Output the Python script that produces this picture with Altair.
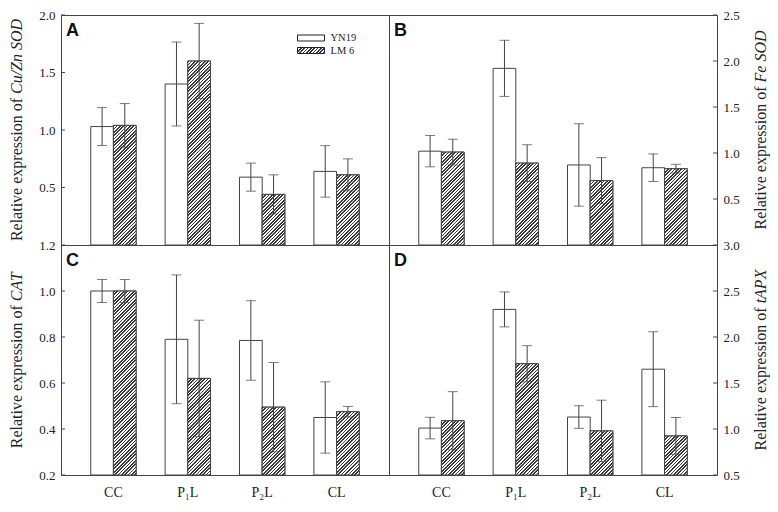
import altair as alt
import pandas as pd

# ---------------- data ----------------
groups = ["CC", "P₁L", "P₂L", "CL"]
series = ["YN19", "LM 6"]

cuzn_yn19 = [1.03, 1.40, 0.59, 0.64]
cuzn_yn19_err = [0.165, 0.365, 0.122, 0.224]
cuzn_lm6 = [1.04, 1.60, 0.44, 0.61]
cuzn_lm6_err = [0.19, 0.327, 0.17, 0.139]

fe_yn19 = [1.02, 1.92, 0.87, 0.84]
fe_yn19_err = [0.17, 0.305, 0.448, 0.15]
fe_lm6 = [1.01, 0.89, 0.70, 0.83]
fe_lm6_err = [0.14, 0.20, 0.25, 0.047]

cat_yn19 = [1.00, 0.79, 0.785, 0.45]
cat_yn19_err = [0.05, 0.28, 0.173, 0.155]
cat_lm6 = [1.00, 0.62, 0.495, 0.475]
cat_lm6_err = [0.05, 0.253, 0.194, 0.023]

apx_yn19 = [1.01, 2.30, 1.13, 1.65]
apx_yn19_err = [0.117, 0.19, 0.123, 0.407]
apx_lm6 = [1.09, 1.71, 0.98, 0.925]
apx_lm6_err = [0.316, 0.196, 0.333, 0.20]

ticks_a = [0.5, 1.0, 1.5, 2.0]
ticks_b = [0.5, 1.0, 1.5, 2.0, 2.5]
ticks_c = [0.2, 0.4, 0.6, 0.8, 1.0, 1.2]
ticks_d = [0.5, 1.0, 1.5, 2.0, 2.5, 3.0]

# ---------------- style ----------------
W, H = 328, 230
FONT = "Liberation Serif"
LINE = "#444444"
HATCH = "#3a3a3a"
P = 3.35         # hatch period (px, along x)
NSTR = 95        # stripes in gradient
DARK = 0.5
PAD_IN, PAD_OUT = 0.39, 0.40
STEP = W / (len(groups) - PAD_IN + 2 * PAD_OUT)
BAR_W = STEP * (1 - PAD_IN) / 2

stops = []
for i in range(NSTR):
    a, b, c = i / NSTR, (i + DARK) / NSTR, (i + 1) / NSTR
    stops += [(a, HATCH), (b, HATCH), (b, "#ffffff"), (c, "#ffffff")]
STOPS_JS = "[" + ",".join("{offset:%.5f,color:'%s'}" % (o, col) for o, col in stops) + "]"


def grad(w, h):
    den = "(%s*%s+%s*%s)" % (w, w, h, h)
    x2 = "%s*%s/%s" % (P * NSTR, w, den)
    y2 = "%s*%s/%s" % (P * NSTR, h, den)
    return "{gradient:'linear',x1:0,y1:0,x2:%s,y2:%s,stops:%s}" % (x2, y2, STOPS_JS)


LEGEND_GRAD = grad("27", "6")

# Times / Liberation Serif advance widths (per 1000 em)
REG = {"R": 667, "e": 444, "l": 278, "a": 444, "t": 278, "i": 278, "v": 500, " ": 250,
       "x": 500, "p": 500, "r": 333, "s": 389, "o": 500, "n": 500, "f": 333}
ITA = {"C": 667, "u": 500, "/": 278, "Z": 556, "n": 500, " ": 250, "S": 500, "O": 722,
       "D": 722, "F": 611, "e": 444, "A": 611, "T": 556, "t": 278, "P": 611, "X": 611}
TFS = 16


def twidth(s, table):
    return sum(table.get(ch, 500) for ch in s) * TFS / 1000.0


def make_df(yn, yn_e, lm, lm_e):
    rows = []
    for s, vals, errs in (("YN19", yn, yn_e), ("LM 6", lm, lm_e)):
        for g, v, e in zip(groups, vals, errs):
            rows.append({"group": g, "series": s, "value": v, "lo": v - e, "hi": v + e})
    return pd.DataFrame(rows)


def panel(df, lo, hi, ticks, orient, letter, t_norm, t_ital, xlabels, legend):
    xaxis = (alt.Axis(title=None, ticks=False, domain=False, labelFont=FONT, labelFontSize=14,
                      labelPadding=10, labelAngle=0, labelColor="#222222")
             if xlabels else None)
    xs = alt.X("group:N", sort=groups, axis=xaxis,
               scale=alt.Scale(domain=groups, paddingInner=PAD_IN, paddingOuter=PAD_OUT))
    xo = alt.XOffset("series:N", sort=series,
                     scale=alt.Scale(domain=series, paddingInner=0, paddingOuter=0))
    ysc = alt.Scale(domain=[lo, hi], nice=False, zero=False)
    yax = alt.Axis(values=ticks, orient=orient, title=None, ticks=False, domain=False, grid=False,
                   format=".1f", labelFont=FONT, labelFontSize=13, labelPadding=6,
                   labelColor="#222222", labelFlush=False)

    base = alt.Chart(df)
    if legend:
        fill = alt.Fill("series:N", sort=series,
                        scale=alt.Scale(domain=series, range=["#ffffff", alt.ExprRef(expr=LEGEND_GRAD)]),
                        legend=alt.Legend(title=None, orient="none", legendX=244, legendY=17,
                                          symbolType="M-2.4545,-0.5455L2.4545,-0.5455L2.4545,0.5455L-2.4545,0.5455Z",
                                          symbolSize=121, symbolStrokeColor="#222222",
                                          symbolStrokeWidth=1, labelFont=FONT, labelFontSize=10.5,
                                          labelOffset=13.5, rowPadding=0.5, padding=0,
                                          labelColor="#222222"))
        bars = base.mark_bar(stroke=LINE, strokeWidth=1).encode(
            x=xs, xOffset=xo, y=alt.Y("value:Q", scale=ysc, axis=yax),
            y2=alt.Y2Datum(lo), fill=fill)
    else:
        bars = base.mark_bar(fill="#ffffff", stroke=LINE, strokeWidth=1).encode(
            x=xs, xOffset=xo, y=alt.Y("value:Q", scale=ysc, axis=yax), y2=alt.Y2Datum(lo))

    hexpr = "((datum.value-(%s))*%s)" % (lo, H / (hi - lo))
    hatch = base.transform_filter(alt.datum.series == "LM 6").mark_bar(
        fill=alt.ExprRef(expr=grad("%.3f" % BAR_W, hexpr)), stroke=LINE, strokeWidth=1).encode(
        x=xs, xOffset=xo, y=alt.Y("value:Q", scale=ysc, axis=yax), y2=alt.Y2Datum(lo))

    rule = base.mark_rule(color=LINE, strokeWidth=1).encode(
        x=xs, xOffset=xo, y=alt.Y("lo:Q", scale=ysc, axis=yax), y2="hi:Q")
    cap_lo = base.mark_tick(color=LINE, size=10, thickness=1, orient="horizontal").encode(
        x=xs, xOffset=xo, y=alt.Y("lo:Q", scale=ysc, axis=yax))
    cap_hi = base.mark_tick(color=LINE, size=10, thickness=1, orient="horizontal").encode(
        x=xs, xOffset=xo, y=alt.Y("hi:Q", scale=ysc, axis=yax))

    if orient == "left":
        tx0, tx1, ttx = 0, 4, -44
    else:
        tx0, tx1, ttx = W - 4, W, W + 44
    tk = alt.Chart(pd.DataFrame({"t": ticks})).mark_rule(color=LINE, strokeWidth=1).encode(
        y=alt.Y("t:Q", scale=ysc, axis=yax), x=alt.value(tx0), x2=alt.value(tx1))

    one = pd.DataFrame({"k": [0]})
    let = alt.Chart(one).mark_text(text=letter, font="Liberation Sans", fontWeight="bold",
                                   fontSize=18, align="left", baseline="alphabetic",
                                   color="#111111").encode(x=alt.value(5), y=alt.value(20.5))
    wn = twidth(t_norm, REG)
    wi = twidth(t_ital, ITA)
    ybot = H / 2 + (wn + wi) / 2
    tn = alt.Chart(one).mark_text(text=t_norm, font=FONT, fontSize=TFS, angle=270, align="left",
                                  baseline="middle", color="#222222").encode(
        x=alt.value(ttx), y=alt.value(ybot))
    ti = alt.Chart(one).mark_text(text=t_ital, font=FONT, fontSize=TFS, fontStyle="italic",
                                  angle=270, align="left", baseline="middle",
                                  color="#222222").encode(
        x=alt.value(ttx), y=alt.value(ybot - wn))

    return alt.layer(bars, hatch, rule, cap_lo, cap_hi, tk, let, tn, ti).properties(width=W, height=H)


pa = panel(make_df(cuzn_yn19, cuzn_yn19_err, cuzn_lm6, cuzn_lm6_err), 0, 2.0, ticks_a, "left", "A",
           "Relative expression of ", "Cu/Zn SOD", False, True)
pb = panel(make_df(fe_yn19, fe_yn19_err, fe_lm6, fe_lm6_err), 0, 2.5, ticks_b, "right", "B",
           "Relative expression of ", "Fe SOD", False, False)
pc = panel(make_df(cat_yn19, cat_yn19_err, cat_lm6, cat_lm6_err), 0.2, 1.2, ticks_c, "left", "C",
           "Relative expression of ", "CAT", True, False)
pd_ = panel(make_df(apx_yn19, apx_yn19_err, apx_lm6, apx_lm6_err), 0.5, 3.0, ticks_d, "right", "D",
            "Relative expression of ", "tAPX", True, False)

chart = alt.concat(pa, pb, pc, pd_, columns=2, spacing=0, bounds="flush").resolve_scale(
    fill="independent").properties(padding=0).configure(
    background="white", view=alt.ViewConfig(stroke=LINE, strokeWidth=1))

chart.save("out.html", embed_options={"renderer": "svg", "actions": False})
